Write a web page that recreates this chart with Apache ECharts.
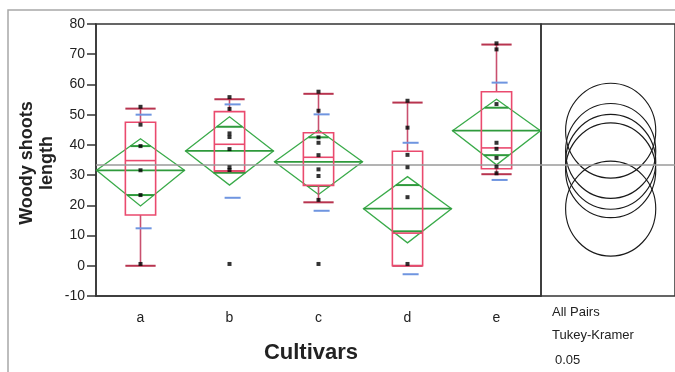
<!DOCTYPE html>
<html><head><meta charset="utf-8">
<script src="https://cdn.jsdelivr.net/npm/echarts@6/dist/echarts.min.js"></script>
<style>html,body{margin:0;padding:0;background:#fff}#c{width:675px;height:372px}</style>
</head><body><div id="c"></div>
<script>
const categories = ['a', 'b', 'c', 'd', 'e'];
const yMin = -10, yMax = 80, yInterval = 10;
const dotsA = [0.6, 23.4, 31.6, 39.6, 46.7, 52.6];
const dotsB = [0.6, 31.7, 32.6, 38.6, 42.6, 43.8, 51.9, 55.8];
const dotsC = [0.6, 21.8, 29.7, 31.9, 36.6, 40.7, 42.5, 51.3, 57.6];
const dotsD = [0.6, 22.7, 32.6, 36.7, 45.7, 54.6];
const dotsE = [30.6, 32.8, 35.7, 38.7, 40.7, 53.5, 71.6, 73.6];
const q1 = [16.8, 31.3, 26.6, 0, 32.1];
const median = [34.8, 40.2, 35.9, 10.8, 39.0];
const q3 = [47.5, 51.0, 44.0, 37.9, 57.6];
const whiskerLow = [0, 31.3, 21.0, 0, 30.3];
const whiskerHigh = [52.0, 55.1, 56.9, 54.0, 73.2];
const means = [31.6, 38.0, 34.4, 18.9, 44.7];
const ciLow = [19.8, 26.7, 23.6, 7.6, 33.4];
const ciHigh = [42.0, 49.3, 44.9, 29.5, 55.1];
const overlapLow = [23.4, 30.8, 26.4, 11.4, 36.6];
const overlapHigh = [39.6, 46.0, 42.5, 26.7, 52.3];
const sdLow = [12.4, 22.5, 18.2, -2.8, 28.4];
const sdHigh = [50.0, 53.4, 50.1, 40.7, 60.6];
const grandMean = 33.4;
const circleRadius = 15.7;
const panelLabels = ['All Pairs', 'Tukey-Kramer', '0.05'];

const allDots = [dotsA, dotsB, dotsC, dotsD, dotsE];
const FONT = '"Liberation Sans", Arial, sans-serif';

const chart = echarts.init(document.getElementById('c'));

const boxData = categories.map((c, i) => [i, q1[i], median[i], q3[i], whiskerLow[i], whiskerHigh[i]]);
const diamondData = categories.map((c, i) => [i, means[i], ciLow[i], ciHigh[i], overlapLow[i], overlapHigh[i]]);
const sdData = categories.map((c, i) => [i, sdLow[i], sdHigh[i]]);
const dotData = [];
allDots.forEach((arr, i) => arr.forEach(v => dotData.push([i, v])));
const circleData = means.map(m => [0.52, m]);

function renderBox(params, api) {
  const i = api.value(0);
  const w = api.size([1, 0])[0];
  const bw = w * 0.34;
  const x = api.coord([i, 0])[0];
  const y = v => api.coord([i, v])[1];
  const yq1 = y(api.value(1)), ymed = y(api.value(2)), yq3 = y(api.value(3));
  const ywl = y(api.value(4)), ywh = y(api.value(5));
  const boxCol = '#ea4a6e', whCol = '#c9506f', capCol = '#b8344f';
  return {
    type: 'group',
    children: [
      { type: 'line', shape: { x1: x, y1: yq3, x2: x, y2: ywh }, style: { stroke: whCol, lineWidth: 1.6 } },
      { type: 'line', shape: { x1: x, y1: yq1, x2: x, y2: ywl }, style: { stroke: whCol, lineWidth: 1.6 } },
      { type: 'line', shape: { x1: x - bw / 2, y1: ywh, x2: x + bw / 2, y2: ywh }, style: { stroke: capCol, lineWidth: 2 } },
      { type: 'line', shape: { x1: x - bw / 2, y1: ywl, x2: x + bw / 2, y2: ywl }, style: { stroke: capCol, lineWidth: 2 } },
      { type: 'rect', shape: { x: x - bw / 2, y: yq3, width: bw, height: yq1 - yq3 }, style: { fill: 'none', stroke: boxCol, lineWidth: 1.6 } },
      { type: 'line', shape: { x1: x - bw / 2, y1: ymed, x2: x + bw / 2, y2: ymed }, style: { stroke: boxCol, lineWidth: 1.6 } }
    ]
  };
}

function renderDiamond(params, api) {
  const i = api.value(0);
  const w = api.size([1, 0])[0];
  const hw = w / 2 - 0.5;
  const x = api.coord([i, 0])[0];
  const y = v => api.coord([i, v])[1];
  const ym = y(api.value(1)), ylo = y(api.value(2)), yhi = y(api.value(3));
  const yol = y(api.value(4)), yoh = y(api.value(5));
  const halfAt = (yy, yv) => hw * (1 - Math.abs(yy - ym) / Math.abs(yv - ym));
  const hOh = halfAt(yoh, yhi), hOl = halfAt(yol, ylo);
  const dCol = '#3aab4a', mCol = '#2f9a3c';
  return {
    type: 'group',
    children: [
      { type: 'polygon', shape: { points: [[x - hw, ym], [x, yhi], [x + hw, ym], [x, ylo]] }, style: { fill: 'none', stroke: dCol, lineWidth: 1.3 } },
      { type: 'line', shape: { x1: x - hw, y1: ym, x2: x + hw, y2: ym }, style: { stroke: mCol, lineWidth: 1.8 } },
      { type: 'line', shape: { x1: x - hOh, y1: yoh, x2: x + hOh, y2: yoh }, style: { stroke: mCol, lineWidth: 2 } },
      { type: 'line', shape: { x1: x - hOl, y1: yol, x2: x + hOl, y2: yol }, style: { stroke: mCol, lineWidth: 2 } }
    ]
  };
}

function renderSd(params, api) {
  const i = api.value(0);
  const w = api.size([1, 0])[0];
  const x = api.coord([i, 0])[0] + w * 0.035;
  const hl = w * 0.09;
  const y1 = api.coord([i, api.value(1)])[1], y2 = api.coord([i, api.value(2)])[1];
  const col = '#6f95e0';
  return {
    type: 'group',
    children: [
      { type: 'line', shape: { x1: x - hl, y1: y1, x2: x + hl, y2: y1 }, style: { stroke: col, lineWidth: 2 } },
      { type: 'line', shape: { x1: x - hl, y1: y2, x2: x + hl, y2: y2 }, style: { stroke: col, lineWidth: 2 } }
    ]
  };
}

function renderCircle(params, api) {
  const c = api.coord([api.value(0), api.value(1)]);
  const r = api.size([0, circleRadius])[1];
  return {
    type: 'circle',
    shape: { cx: c[0], cy: c[1], r: r },
    originX: c[0], originY: c[1], scaleX: 0.95,
    style: { fill: 'none', stroke: '#1a1a1a', lineWidth: 1.2 }
  };
}

const gmLine = {
  silent: true, symbol: 'none', label: { show: false },
  lineStyle: { color: '#9a9a9a', width: 1.5, type: 'solid' },
  data: [{ yAxis: grandMean }]
};

chart.setOption({
  animation: false,
  backgroundColor: '#fff',
  grid: [
    { left: 96, top: 24, width: 445, height: 272, show: true, borderColor: '#333', borderWidth: 1.5, backgroundColor: 'transparent' },
    { left: 541, top: 24, width: 145, height: 272, show: true, borderColor: '#333', borderWidth: 1.5, backgroundColor: 'transparent' }
  ],
  xAxis: [
    {
      type: 'category', data: categories, gridIndex: 0, boundaryGap: true, position: 'bottom',
      axisLine: { onZero: false, lineStyle: { color: '#333', width: 1.5 } },
      axisTick: { length: 7, lineStyle: { color: '#333', width: 1.5 } },
      axisLabel: { fontSize: 14, color: '#222', fontFamily: FONT, margin: 15 },
      splitLine: { show: false }
    },
    { type: 'value', gridIndex: 1, min: 0, max: 1, show: false }
  ],
  yAxis: [
    {
      type: 'value', gridIndex: 0, min: yMin, max: yMax, interval: yInterval,
      axisLine: { show: true, onZero: false, lineStyle: { color: '#333', width: 1.5 } },
      axisTick: { show: true, length: 9, lineStyle: { color: '#333', width: 1.5 } },
      axisLabel: { fontSize: 14, color: '#222', fontFamily: FONT, margin: 11 },
      splitLine: { show: false }
    },
    { type: 'value', gridIndex: 1, min: yMin, max: yMax, interval: yInterval, show: false, splitLine: { show: false } }
  ],
  series: [
    { type: 'custom', name: 'diamonds', xAxisIndex: 0, yAxisIndex: 0, data: diamondData, renderItem: renderDiamond, z: 2, markLine: gmLine },
    { type: 'custom', name: 'boxes', xAxisIndex: 0, yAxisIndex: 0, data: boxData, renderItem: renderBox, z: 3 },
    { type: 'custom', name: 'sd', xAxisIndex: 0, yAxisIndex: 0, data: sdData, renderItem: renderSd, z: 4 },
    { type: 'scatter', name: 'points', xAxisIndex: 0, yAxisIndex: 0, data: dotData, symbol: 'rect', symbolSize: 4, itemStyle: { color: '#000' }, z: 5 },
    { type: 'custom', name: 'circles', xAxisIndex: 1, yAxisIndex: 1, data: circleData, renderItem: renderCircle, z: 3, markLine: gmLine }
  ],
  graphic: [
    { type: 'polyline', shape: { points: [[8, 372], [8, 10], [680, 10]] }, style: { fill: 'none', stroke: '#a8a8a8', lineWidth: 1.5 }, silent: true },
    { type: 'text', x: 37, y: 163, rotation: Math.PI / 2, style: { text: 'Woody shoots\nlength', font: 'bold 18px ' + FONT, fill: '#222', align: 'center', verticalAlign: 'middle', textAlign: 'center', textVerticalAlign: 'middle', lineHeight: 20 } },
    { type: 'text', x: 311, y: 353, style: { text: 'Cultivars', font: 'bold 22px ' + FONT, fill: '#222', align: 'center', verticalAlign: 'middle', textAlign: 'center', textVerticalAlign: 'middle' } },
    { type: 'text', x: 552, y: 312, style: { text: panelLabels[0], font: '13px ' + FONT, fill: '#222', align: 'left', verticalAlign: 'middle', textAlign: 'left', textVerticalAlign: 'middle' } },
    { type: 'text', x: 552, y: 335, style: { text: panelLabels[1], font: '13px ' + FONT, fill: '#222', align: 'left', verticalAlign: 'middle', textAlign: 'left', textVerticalAlign: 'middle' } },
    { type: 'text', x: 555, y: 360, style: { text: panelLabels[2], font: '13px ' + FONT, fill: '#222', align: 'left', verticalAlign: 'middle', textAlign: 'left', textVerticalAlign: 'middle' } }
  ]
});
</script></body></html>
